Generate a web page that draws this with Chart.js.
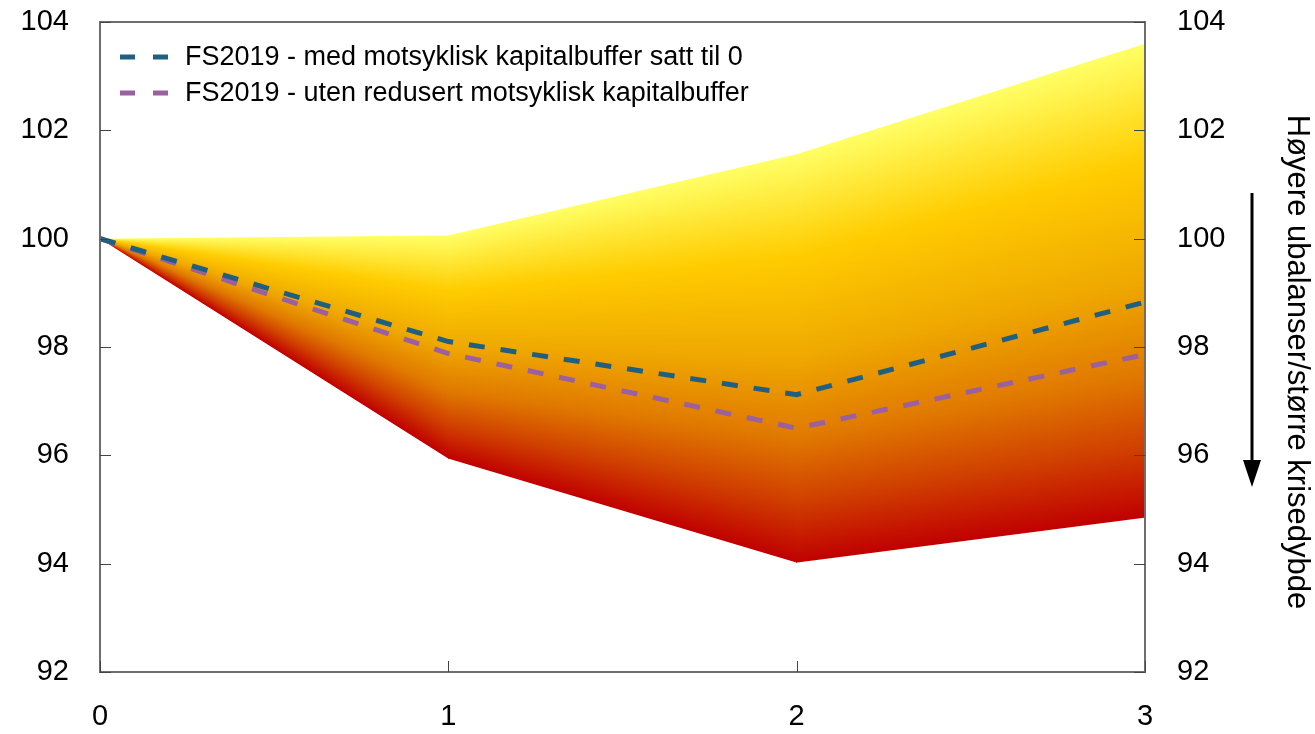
<!DOCTYPE html>
<html>
<head>
<meta charset="utf-8">
<script src="https://cdn.jsdelivr.net/npm/chart.js@4/dist/chart.umd.min.js"></script>
<style>
  html, body { margin: 0; padding: 0; background: #fff; }
  #wrap { width: 1315px; height: 734px; }
</style>
</head>
<body>
<div id="wrap"><canvas id="fan"></canvas></div>
<script>
// Data
var years = [0, 1, 2, 3];
var fanTop = [100, 100.06, 101.56, 103.6];
var fanBottom = [100, 95.94, 94.02, 94.85];
var medBuffer0 = [100, 98.1, 97.12, 98.83];
var utenRedusert = [100, 97.88, 96.5, 97.86];

var yTicks = [92, 94, 96, 98, 100, 102, 104];
var xTicks = [0, 1, 2, 3];

var serieNavn = [
  'FS2019 - med motsyklisk kapitalbuffer satt til 0',
  'FS2019 - uten redusert motsyklisk kapitalbuffer'
];
var hoyreTekst = 'Høyere ubalanser/større krisedybde';

var fontName = '"Liberation Sans", Arial, sans-serif';

function pts(ys) {
  return years.map(function (x, i) { return { x: x, y: ys[i] }; });
}

// no extra padding from label overflow
function noPad(s) {
  s.paddingTop = 0; s.paddingBottom = 0;
  s.paddingLeft = 0; s.paddingRight = 0;
}

// fan: drawn column by column, top yellow -> bottom red
var fanPlugin = {
  id: 'fan',
  beforeDatasetsDraw: function (chart) {
    var ctx = chart.ctx;
    var top = chart.getDatasetMeta(0).data;
    var bot = chart.getDatasetMeta(1).data;
    ctx.save();
    for (var i = 0; i < top.length - 1; i++) {
      var x0 = top[i].x, x1 = top[i + 1].x;
      for (var px = Math.floor(x0); px < Math.ceil(x1); px++) {
        var t = (px + 0.5 - x0) / (x1 - x0);
        if (t < 0) t = 0; if (t > 1) t = 1;
        var yt = top[i].y + (top[i + 1].y - top[i].y) * t;
        var yb = bot[i].y + (bot[i + 1].y - bot[i].y) * t;
        if (yb - yt < 0.5) { yb = yt + 0.5; }
        var g = ctx.createLinearGradient(0, yt, 0, yb);
        g.addColorStop(0, '#ffff66');
        g.addColorStop(0.25, '#ffcc00');
        g.addColorStop(0.5, '#efa800');
        g.addColorStop(0.7, '#e07800');
        g.addColorStop(0.85, '#d04000');
        g.addColorStop(1, '#c00000');
        ctx.fillStyle = g;
        ctx.fillRect(px, yt, 1, yb - yt);
      }
    }
    ctx.restore();
  },
  afterDraw: function (chart) {
    var ctx = chart.ctx;
    var a = chart.chartArea;
    var xs = chart.scales.x, yl = chart.scales.y, yr = chart.scales.y2;
    ctx.save();
    // frame
    ctx.strokeStyle = '#6e6e6e';
    ctx.lineWidth = 2;
    ctx.strokeRect(a.left, a.top, a.right - a.left, a.bottom - a.top);
    // inward ticks
    ctx.lineWidth = 1;
    ctx.strokeStyle = '#444';
    ctx.beginPath();
    yTicks.forEach(function (v) {
      var y = Math.round(yl.getPixelForValue(v)) + 0.5;
      ctx.moveTo(a.left, y); ctx.lineTo(a.left + 11, y);
      var y2 = Math.round(yr.getPixelForValue(v)) + 0.5;
      ctx.moveTo(a.right, y2); ctx.lineTo(a.right - 11, y2);
    });
    xTicks.forEach(function (v) {
      var x = Math.round(xs.getPixelForValue(v)) + 0.5;
      ctx.moveTo(x, a.bottom); ctx.lineTo(x, a.bottom - 11);
    });
    ctx.stroke();

    // legend
    ctx.font = '27px ' + fontName;
    ctx.textBaseline = 'middle';
    ctx.textAlign = 'left';
    [2, 3].forEach(function (di, k) {
      var ds = chart.data.datasets[di];
      var y = 57 + k * 36;
      ctx.strokeStyle = ds.borderColor;
      ctx.lineWidth = 5;
      ctx.setLineDash([15, 18]);
      ctx.beginPath();
      ctx.moveTo(120, y); ctx.lineTo(168, y);
      ctx.stroke();
      ctx.setLineDash([]);
      ctx.fillStyle = '#000';
      ctx.fillText(ds.label, 185, y + 1);
    });

    // right side text + arrow
    ctx.save();
    ctx.translate(1297, 362);
    ctx.rotate(Math.PI / 2);
    ctx.font = '31px ' + fontName;
    ctx.textAlign = 'center';
    ctx.textBaseline = 'middle';
    ctx.fillStyle = '#000';
    ctx.fillText(hoyreTekst, 0, 0);
    ctx.restore();

    ctx.strokeStyle = '#000';
    ctx.fillStyle = '#000';
    ctx.lineWidth = 3;
    ctx.beginPath();
    ctx.moveTo(1252, 193); ctx.lineTo(1252, 470);
    ctx.stroke();
    ctx.beginPath();
    ctx.moveTo(1243, 460); ctx.lineTo(1261, 460); ctx.lineTo(1252, 487);
    ctx.closePath();
    ctx.fill();
    ctx.restore();
  }
};

new Chart(document.getElementById('fan').getContext('2d'), {
  type: 'line',
  data: {
    datasets: [{
      label: 'topp',
      data: pts(fanTop),
      borderWidth: 0,
      showLine: false,
      pointRadius: 0
    }, {
      label: 'bunn',
      data: pts(fanBottom),
      borderWidth: 0,
      showLine: false,
      pointRadius: 0
    }, {
      label: serieNavn[0],
      data: pts(medBuffer0),
      borderColor: '#215f80',
      borderWidth: 5,
      borderDash: [16, 16],
      pointRadius: 0,
      fill: false,
      tension: 0
    }, {
      label: serieNavn[1],
      data: pts(utenRedusert),
      borderColor: '#9a60a0',
      borderWidth: 5,
      borderDash: [16, 16],
      pointRadius: 0,
      fill: false,
      tension: 0
    }]
  },
  options: {
    responsive: true,
    maintainAspectRatio: false,
    animation: false,
    layout: { autoPadding: false, padding: { top: 22, left: 0, right: 0, bottom: 0 } },
    plugins: {
      legend: { display: false },
      tooltip: { enabled: false }
    },
    scales: {
      x: {
        type: 'linear',
        min: 0,
        max: 3,
        grid: { display: false, drawTicks: false },
        border: { display: false },
        ticks: {
          stepSize: 1,
          padding: 28,
          color: '#000',
          font: { family: fontName, size: 29 }
        },
        afterFit: function (s) { s.height = 62; noPad(s); }
      },
      y: {
        position: 'left',
        min: 92,
        max: 104,
        grid: { display: false, drawTicks: false },
        border: { display: false },
        ticks: {
          stepSize: 2,
          padding: 31,
          color: '#000',
          font: { family: fontName, size: 29 }
        },
        afterFit: function (s) { s.width = 100; noPad(s); }
      },
      y2: {
        position: 'right',
        min: 92,
        max: 104,
        grid: { display: false, drawTicks: false },
        border: { display: false },
        ticks: {
          stepSize: 2,
          padding: 32,
          color: '#000',
          font: { family: fontName, size: 29 }
        },
        afterFit: function (s) { s.width = 170; noPad(s); }
      }
    }
  },
  plugins: [fanPlugin]
});
</script>
</body>
</html>
